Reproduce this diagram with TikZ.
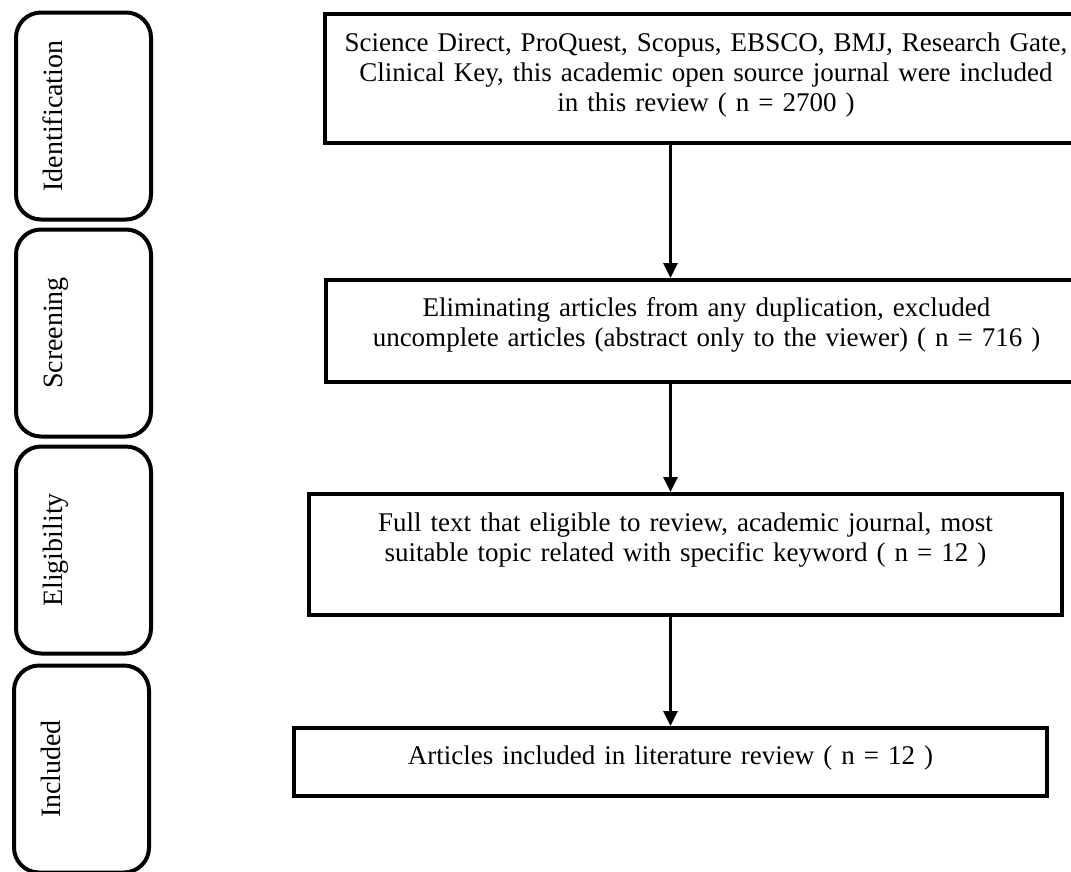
\documentclass[tikz,border=0pt]{standalone}
\usepackage{fontspec}
\setmainfont{Liberation Serif}
\usetikzlibrary{arrows.meta,positioning}
\tikzstyle{phase}=[draw,line width=4pt,rounded corners=25pt,rotate=90,inner sep=0pt,minimum width=207pt,text height=46pt,text depth=89pt,font=\fontsize{28}{30}\selectfont]
\tikzstyle{block}=[draw,line width=4pt,inner sep=0pt,align=center,anchor=north west,font=\fontsize{27}{30}\selectfont]
\tikzstyle{every edge}=[draw,line width=3pt,>={Triangle[width=14pt,length=15pt]}]

\begin{document}
\begin{tikzpicture}[x=1pt,y=1pt]
  \clip (0,0) rectangle (1071,-871);
  % stages on the left
  \node[phase]  (s1) at (83.5,-116) {Identification};
  \node[phase]  (s2) at (83.5,-333) {Screening};
  \node[phase]  (s3) at (83.5,-550) {Eligibility};
  \node[phase]  (s4) at (81.5,-769) {Included};

  % flow boxes
  \node[block,text width=762pt,text height=37pt,text depth=92pt] (b1) at (323,-12)
    {Science Direct, ProQuest, Scopus, EBSCO, BMJ, Research Gate,\\
     Clinical Key, this academic open source journal were included\\
     in this review ( n = 2700 )};
  \node[block,text width=761pt,text height=36pt,text depth=66pt] (b2) at (324,-278)
    {Eliminating articles from any duplication, excluded\\
     uncomplete articles (abstract only to the viewer) ( n = 716 )};
  \node[block,text width=753pt,text height=37pt,text depth=84pt] (b3) at (307,-492)
    {Full text that eligible to review, academic journal, most\\
     suitable topic related with specific keyword ( n = 12 )};
  \node[block,text width=753pt,text height=36pt,text depth=32pt] (b4) at (292,-726)
    {Articles included in literature review ( n = 12 )};

  \path[->] (b1.south -| b4.north) edge (b2.north -| b4.north)
    (b2.south -| b4.north) edge (b3.north -| b4.north)
    (b3.south -| b4.north) edge (b4.north);
\end{tikzpicture}
\end{document}
